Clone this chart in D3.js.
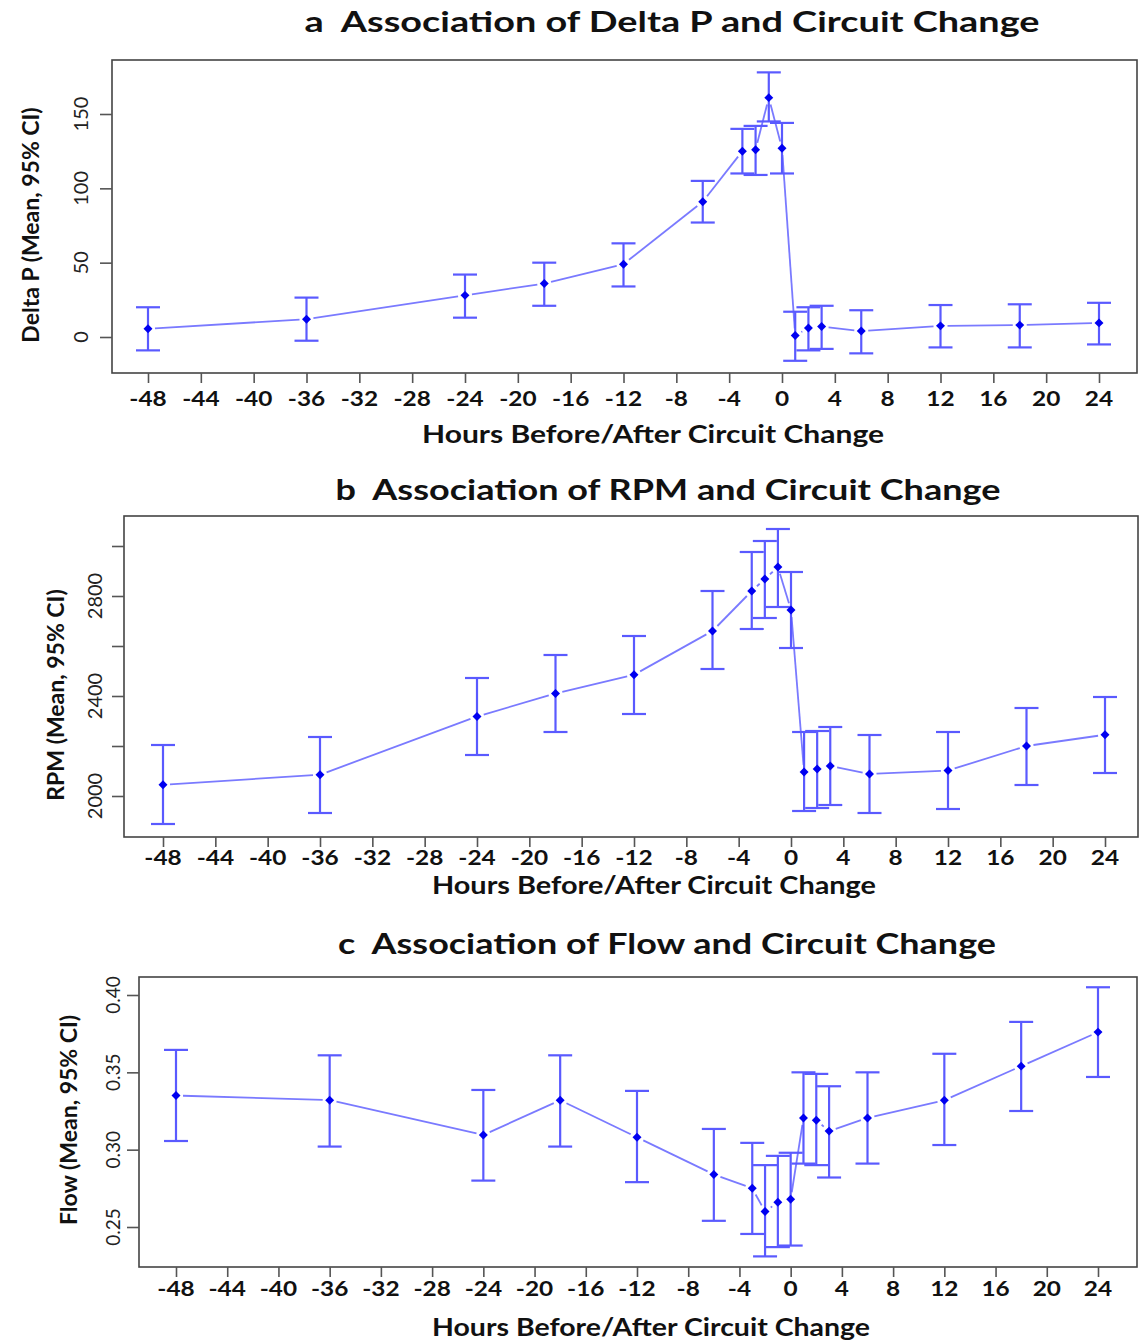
<!DOCTYPE html>
<html>
<head>
<meta charset="utf-8">
<script src="https://cdn.jsdelivr.net/npm/d3@7"></script>
<style>
  html, body { margin: 0; padding: 0; background: #fff; }
  svg { display: block; }
  text { white-space: pre; }
</style>
</head>
<body>
<svg id="chart" width="1146" height="1340"></svg>
<script>
// ---------- DATA ----------
const hours = [-48, -36, -24, -18, -12, -6, -3, -2, -1, 0, 1, 2, 3, 6, 12, 18, 24];
const xTicks = [-48, -44, -40, -36, -32, -28, -24, -20, -16, -12, -8, -4, 0, 4, 8, 12, 16, 20, 24];

const deltaPMean  = [5.5, 12, 28, 36, 49, 91, 125, 126, 161, 127, 1, 6, 7, 4, 7.5, 8, 9.5];
const deltaPLower = [-9, -2.5, 13, 21, 34, 77, 110, 109, 145, 110, -16, -9, -8, -11, -7, -7, -5];
const deltaPUpper = [20, 26.5, 42, 50, 63, 105, 140, 142, 178, 144, 17, 20, 21, 18, 21.5, 22, 23];
const deltaPTicks = [0, 50, 100, 150];
const deltaPLabels = ["0", "50", "100", "150"];

const rpmMean  = [2045, 2085, 2318, 2410, 2485, 2660, 2820, 2868, 2916, 2744, 2096, 2108, 2120, 2088, 2102, 2200, 2245];
const rpmLower = [1888, 1932, 2164, 2256, 2328, 2508, 2668, 2712, 2756, 2592, 1940, 1952, 1964, 1932, 1948, 2044, 2092];
const rpmUpper = [2204, 2236, 2472, 2564, 2640, 2820, 2976, 3020, 3068, 2896, 2256, 2260, 2276, 2244, 2256, 2352, 2396];
const rpmTicks = [2000, 2200, 2400, 2600, 2800, 3000];
const rpmLabels = ["2000", "", "2400", "", "2800", ""];

const flowMean  = [0.335, 0.332, 0.3095, 0.332, 0.308, 0.284, 0.275, 0.260, 0.266, 0.268, 0.3205, 0.319, 0.312, 0.3205, 0.332, 0.354, 0.376];
const flowLower = [0.3056, 0.302, 0.280, 0.302, 0.279, 0.254, 0.2455, 0.231, 0.237, 0.238, 0.291, 0.290, 0.282, 0.291, 0.303, 0.325, 0.347];
const flowUpper = [0.3645, 0.361, 0.3386, 0.361, 0.338, 0.3134, 0.3044, 0.290, 0.296, 0.298, 0.350, 0.349, 0.341, 0.350, 0.362, 0.3826, 0.405];
const flowTicks = [0.25, 0.30, 0.35, 0.40];
const flowLabels = ["0.25", "0.30", "0.35", "0.40"];

const titles = ["a  Association of Delta P and Circuit Change",
                "b  Association of RPM and Circuit Change",
                "c  Association of Flow and Circuit Change"];
const yTitles = ["Delta P (Mean, 95% CI)", "RPM (Mean, 95% CI)", "Flow (Mean, 95% CI)"];
const xTitle = "Hours Before/After Circuit Change";

// ---------- LAYOUT ----------
const panels = [
  { mean: deltaPMean, lo: deltaPLower, hi: deltaPUpper, yTicks: deltaPTicks, yLabels: deltaPLabels,
    frame: {l: 112, r: 1137, t: 60, b: 373}, yDom: [0, 150], yRange: [337, 114], xRange: [148, 1099],
    titleY: 32, titleX: 672, titleW: 735, xTitleY: 443, xTitleX: 653, xTitleW: 462,
    yTitleX: 30, yTitleY: 225, yLabX: 80, yLabSize: 20, tickLabY: 406 },
  { mean: rpmMean, lo: rpmLower, hi: rpmUpper, yTicks: rpmTicks, yLabels: rpmLabels,
    frame: {l: 124, r: 1138, t: 516, b: 837}, yDom: [2000, 2800], yRange: [796, 596], xRange: [163, 1105],
    titleY: 500, titleX: 668, titleW: 665, xTitleY: 894, xTitleX: 654, xTitleW: 444,
    yTitleX: 55, yTitleY: 695, yLabX: 94, yLabSize: 20, tickLabY: 865 },
  { mean: flowMean, lo: flowLower, hi: flowUpper, yTicks: flowTicks, yLabels: flowLabels,
    frame: {l: 139, r: 1137, t: 977, b: 1267}, yDom: [0.25, 0.40], yRange: [1227, 995], xRange: [176, 1098],
    titleY: 954, titleX: 667, titleW: 658, xTitleY: 1336, xTitleX: 651, xTitleW: 438,
    yTitleX: 68, yTitleY: 1120, yLabX: 112, yLabSize: 19, tickLabY: 1296 }
];

const svg = d3.select("#chart");
const barColor = "#5a5aff";
const lineColor = "#7a7aff";
const ptColor = "#0000f0";
const font = "Lato, 'Open Sans', sans-serif";

panels.forEach((p, i) => {
  const x = d3.scaleLinear().domain([-48, 24]).range(p.xRange);
  const y = d3.scaleLinear().domain(p.yDom).range(p.yRange);
  const g = svg.append("g");

  // frame
  g.append("rect")
    .attr("x", p.frame.l).attr("y", p.frame.t)
    .attr("width", p.frame.r - p.frame.l).attr("height", p.frame.b - p.frame.t)
    .attr("fill", "none").attr("stroke", "#444").attr("stroke-width", 1.6);

  // x axis
  const xAxis = d3.axisBottom(x).tickValues(xTicks).tickSize(10).tickPadding(6).tickSizeOuter(0);
  const xg = g.append("g").attr("transform", `translate(0,${p.frame.b})`).call(xAxis);
  xg.select(".domain").remove();
  xg.selectAll(".tick line").attr("stroke", "#555").attr("stroke-width", 1.6);
  xg.selectAll(".tick text").remove();
  g.selectAll(".xlab").data(xTicks).join("text")
    .attr("transform", d => `translate(${x(d)},${p.tickLabY}) scale(1.22,1)`)
    .attr("text-anchor", "middle")
    .attr("font-family", font).attr("font-weight", "bold").attr("font-size", 20)
    .attr("fill", "#111")
    .text(d => d);

  // y axis
  const yAxis = d3.axisLeft(y).tickValues(p.yTicks).tickSize(12).tickSizeOuter(0).tickFormat("");
  const yg = g.append("g").attr("transform", `translate(${p.frame.l},0)`).call(yAxis);
  yg.select(".domain").remove();
  yg.selectAll(".tick line").attr("stroke", "#555").attr("stroke-width", 1.6);
  g.selectAll(".ylab").data(p.yTicks).join("text")
    .attr("transform", d => `translate(${p.yLabX},${y(d)}) rotate(-90)`)
    .attr("text-anchor", "middle").attr("dominant-baseline", "central")
    .attr("font-family", font).attr("font-size", p.yLabSize).attr("fill", "#222")
    .text((d, k) => p.yLabels[k]);

  // titles
  g.append("text")
    .attr("x", p.titleX).attr("y", p.titleY).attr("text-anchor", "middle")
    .attr("font-family", font).attr("font-weight", "bold").attr("font-size", 28).attr("fill", "#111")
    .attr("textLength", p.titleW).attr("lengthAdjust", "spacingAndGlyphs")
    .text(titles[i]);
  g.append("text")
    .attr("x", p.xTitleX).attr("y", p.xTitleY).attr("text-anchor", "middle")
    .attr("font-family", font).attr("font-weight", "bold").attr("font-size", 24).attr("fill", "#111")
    .attr("textLength", p.xTitleW).attr("lengthAdjust", "spacingAndGlyphs")
    .text(xTitle);
  g.append("text")
    .attr("transform", `translate(${p.yTitleX},${p.yTitleY}) rotate(-90)`)
    .attr("text-anchor", "middle").attr("dominant-baseline", "central")
    .attr("font-family", font).attr("font-weight", "bold").attr("font-size", 23).attr("fill", "#111")
    .text(yTitles[i]);

  // connecting line (type "b": gaps around points)
  const pts = hours.map((h, k) => [x(h), y(p.mean[k])]);
  const gap = 7;
  const segs = [];
  for (let k = 0; k < pts.length - 1; k++) {
    const [x0, y0] = pts[k], [x1, y1] = pts[k + 1];
    const len = Math.hypot(x1 - x0, y1 - y0);
    if (len > 2 * gap + 1) {
      const ux = (x1 - x0) / len, uy = (y1 - y0) / len;
      segs.push([x0 + ux * gap, y0 + uy * gap, x1 - ux * gap, y1 - uy * gap]);
    }
  }
  g.selectAll(".seg").data(segs).join("line")
    .attr("x1", d => d[0]).attr("y1", d => d[1]).attr("x2", d => d[2]).attr("y2", d => d[3])
    .attr("stroke", lineColor).attr("stroke-width", 1.8);

  // error bars
  const capW = 12;
  const eb = g.selectAll(".eb").data(hours).join("g");
  eb.append("line")
    .attr("x1", d => x(d)).attr("x2", d => x(d))
    .attr("y1", (d, k) => y(p.lo[k])).attr("y2", (d, k) => y(p.hi[k]))
    .attr("stroke", barColor).attr("stroke-width", 2.2);
  eb.append("line")
    .attr("x1", d => x(d) - capW).attr("x2", d => x(d) + capW)
    .attr("y1", (d, k) => y(p.lo[k])).attr("y2", (d, k) => y(p.lo[k]))
    .attr("stroke", barColor).attr("stroke-width", 2.2);
  eb.append("line")
    .attr("x1", d => x(d) - capW).attr("x2", d => x(d) + capW)
    .attr("y1", (d, k) => y(p.hi[k])).attr("y2", (d, k) => y(p.hi[k]))
    .attr("stroke", barColor).attr("stroke-width", 2.2);

  // points (diamonds)
  g.selectAll(".pt").data(hours).join("path")
    .attr("d", d3.symbol().type(d3.symbolSquare).size(40))
    .attr("transform", (d, k) => `translate(${x(d)},${y(p.mean[k])}) rotate(45)`)
    .attr("fill", ptColor);
});
</script>
</body>
</html>
